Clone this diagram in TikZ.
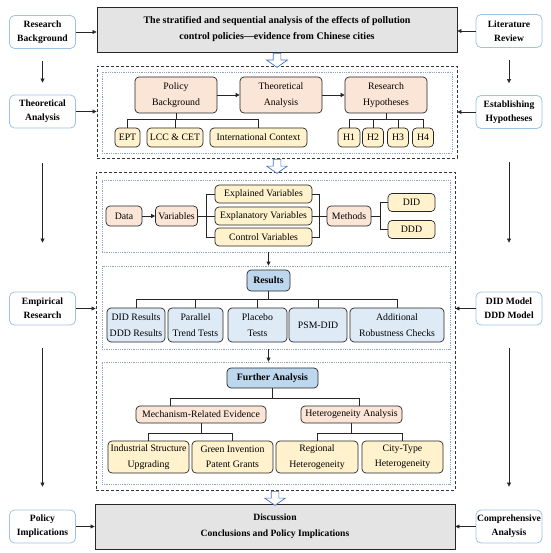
\documentclass[tikz,border=0pt]{standalone}
\usepackage{fontspec}
\setmainfont{Liberation Serif}
\usetikzlibrary{shapes.arrows, arrows.meta, positioning, calc}
\definecolor{sideblue}{HTML}{9DC3E6}
\definecolor{titlegray}{HTML}{E4E4E4}
\definecolor{pinkfill}{HTML}{FBE5D6}
\definecolor{yellowfill}{HTML}{FFF2CC}
\definecolor{headblue}{HTML}{BDD7EE}
\definecolor{resblue}{HTML}{DEEBF7}
\definecolor{framegray}{HTML}{8FA5BF}
\definecolor{arrowblue}{HTML}{4472C4}
\tikzset{
  sidebox/.style={rectangle, rounded corners=5pt, draw=sideblue, line width=0.8pt,
    fill=white, minimum width=66pt, minimum height=33pt, align=center, inner sep=1pt,
    font=\fontsize{9.6}{14}\selectfont\bfseries},
  titlebox/.style={rectangle, draw=black!85, line width=0.9pt, fill=titlegray,
    minimum width=360pt, minimum height=45pt, align=center,
    font=\fontsize{10}{16}\selectfont\bfseries},
  basebox/.style={rectangle, rounded corners=4pt, draw=black!85, line width=0.7pt,
    align=center, inner sep=0.5pt, font=\fontsize{9.8}{15.5}\selectfont},
  pinkbox/.style={basebox, fill=pinkfill},
  yellowbox/.style={basebox, fill=yellowfill},
  headbox/.style={basebox, fill=headblue, font=\fontsize{9.8}{15.5}\selectfont\bfseries},
  resbox/.style={basebox, fill=resblue},
  outerframe/.style={rectangle, draw=black!80, line width=0.9pt, dash pattern=on 3pt off 2pt},
  innerframe/.style={rectangle, draw=framegray, densely dotted, line width=0.8pt},
  arrow/.style={-{Triangle[length=4pt,width=4pt]}, line width=0.6pt, black!85},
  tree/.style={line width=0.6pt, black!85},
  openarrow/.style={single arrow, draw=arrowblue, fill=white, line width=0.7pt,
    shape border rotate=270, minimum height=14pt, inner sep=3.5pt,
    single arrow head extend=6.5pt, single arrow tip angle=110}
}
\begin{document}
\begin{tikzpicture}[x=1pt, y=-1pt]
\useasboundingbox (0,0) rectangle (550,553);

% side columns
\node (rb)   [sidebox] at (42.5,32)    {Research\\Background};
\node (ta)   [sidebox] at (42.5,111.5) {Theoretical\\Analysis};
\node (er)   [sidebox] at (42.5,308.5) {Empirical\\Research};
\node (pi)   [sidebox] at (42.5,526.5) {Policy\\Implications};
\node (lr)   [sidebox] at (509,31)     {Literature\\Review};
\node (eh)   [sidebox] at (509,112)    {Establishing\\Hypotheses};
\node (dm)   [sidebox] at (509,308.5)  {DID Model\\DDD Model};
\node (ca)   [sidebox] at (509,526.5)  {Comprehensive\\Analysis};

% title and discussion
\node (title) [titlebox] at (277,29.5)
  {The stratified and sequential analysis of the effects of pollution\\control policies---evidence from Chinese cities};
\node (disc)  [titlebox, font=\fontsize{9.6}{16}\selectfont\bfseries] at (275,526.5)
  {Discussion\\Conclusions and Policy Implications};

% frames
\node (frame1) [outerframe, minimum width=360pt, minimum height=92pt]  at (277,112)   {};
\node (in1)    [innerframe, minimum width=350pt, minimum height=81pt]  at (277,112.5) {};
\node (frame2) [outerframe, minimum width=359pt, minimum height=318pt] at (275.5,331) {};
\node (subA)   [innerframe, minimum width=348pt, minimum height=72pt]  at (276,216)   {};
\node (subB)   [innerframe, minimum width=348pt, minimum height=83pt]  at (276,307.5) {};
\node (subC)   [innerframe, minimum width=348pt, minimum height=122pt] at (276,423)   {};

% hollow arrows
\node (oa1) [openarrow] at (277,59)  {};
\node (oa2) [openarrow] at (277,165) {};
\node (oa3) [openarrow] at (275,497) {};

% theory block
\node (pb)   [pinkbox, minimum width=82pt, minimum height=36pt] at (176,95) {Policy\\Background};
\node (tha)  [pinkbox, minimum width=82pt, minimum height=36pt] at (281,95) {Theoretical\\Analysis};
\node (rh)   [pinkbox, minimum width=82pt, minimum height=36pt] at (386,95) {Research\\Hypotheses};
\node (ept)  [yellowbox, minimum width=25pt, minimum height=19pt] at (127.5,137.5) {EPT};
\node (lcc)  [yellowbox, minimum width=56pt, minimum height=19pt] at (175,137.5)   {LCC \& CET};
\node (intl) [yellowbox, minimum width=97pt, minimum height=19pt] at (258.5,137.5) {International Context};
\node (h1)   [yellowbox, minimum width=22pt, minimum height=19pt] at (349,137.5) {H1};
\node (h2)   [yellowbox, minimum width=21pt, minimum height=19pt] at (373,137.5) {H2};
\node (h3)   [yellowbox, minimum width=21pt, minimum height=19pt] at (398,137.5) {H3};
\node (h4)   [yellowbox, minimum width=21pt, minimum height=19pt] at (423,137.5) {H4};

% data block
\node (data) [pinkbox, minimum width=36pt, minimum height=20pt] at (124,216)   {Data};
\node (var)  [pinkbox, minimum width=42pt, minimum height=20pt] at (176.5,216) {Variables};
\node (expd) [yellowbox, minimum width=97pt, minimum height=18pt] at (263.5,194) {Explained Variables};
\node (expy) [yellowbox, minimum width=97pt, minimum height=18pt] at (263.5,216) {Explanatory Variables};
\node (ctrl) [yellowbox, minimum width=97pt, minimum height=18pt] at (263.5,237) {Control Variables};
\node (meth) [pinkbox, minimum width=44pt, minimum height=20pt] at (349,216)   {Methods};
\node (did)  [yellowbox, minimum width=47pt, minimum height=18pt] at (411.5,202.5) {DID};
\node (ddd)  [yellowbox, minimum width=47pt, minimum height=18pt] at (411.5,229.5) {DDD};

% results block
\node (res) [headbox, minimum width=43pt, minimum height=21pt] at (268.5,280.5) {Results};
\node (r1)  [resbox, minimum width=58pt, minimum height=34pt] at (136,325)   {DID Results\\DDD Results};
\node (r2)  [resbox, minimum width=55pt, minimum height=34pt] at (195.5,325) {Parallel\\Trend Tests};
\node (r3)  [resbox, minimum width=59pt, minimum height=34pt] at (257.5,325) {Placebo\\Tests};
\node (r4)  [resbox, minimum width=58pt, minimum height=34pt] at (318,325)   {PSM-DID};
\node (r5)  [resbox, minimum width=94pt, minimum height=34pt] at (397,325)   {Additional\\Robustness Checks};

% further analysis block
\node (fa)   [headbox, minimum width=91pt, minimum height=20pt] at (272.5,378) {Further Analysis};
\node (mre)  [pinkbox, minimum width=130pt, minimum height=17pt] at (201,414.5)  {Mechanism-Related Evidence};
\node (ha)   [pinkbox, minimum width=101pt, minimum height=17pt] at (351.5,414.5) {Heterogeneity Analysis};
\node (isu)  [yellowbox, minimum width=81pt, minimum height=32pt] at (148.5,457) {Industrial Structure\\Upgrading};
\node (gip)  [yellowbox, minimum width=81pt, minimum height=32pt] at (232.5,457) {Green Invention\\Patent Grants};
\node (reg)  [yellowbox, minimum width=82pt, minimum height=32pt] at (317,457)   {Regional\\Heterogeneity};
\node (city) [yellowbox, minimum width=81pt, minimum height=32pt] at (402.5,457) {City-Type\\Heterogeneity};

% side arrows
\draw [arrow] (rb) -- (rb -| title.west);
\draw [arrow] (lr) -- (lr -| title.east);
\draw [arrow] (ta) -- (ta -| frame1.west);
\draw [arrow] (eh) -- (eh -| frame1.east);
\draw [arrow] (er) -- (er -| frame2.west);
\draw [arrow] (dm) -- (dm -| frame2.east);
\draw [arrow] (pi) -- (pi -| disc.west);
\draw [arrow] (ca) -- (ca -| disc.east);
\draw [arrow, shorten <=12pt, shorten >=12pt] (rb) -- (ta);
\draw [arrow, shorten <=12pt, shorten >=12pt] (lr) -- (eh);
\draw [arrow, shorten <=35pt, shorten >=49pt] (ta) -- (er);
\draw [arrow, shorten <=33pt, shorten >=49pt] (eh) -- (dm);
\draw [arrow, shorten <=23pt, shorten >=23pt] (er) -- (pi);
\draw [arrow, shorten <=23pt, shorten >=23pt] (dm) -- (ca);

% theory block links
\draw [arrow] (pb) -- (tha);
\draw [arrow] (tha) -- (rh);
\draw [tree] (pb.south) -- ++(0,6) coordinate (pbbar);
\foreach \c in {ept,lcc,intl} \draw [tree] (pbbar) -| (\c);
\draw [tree] (rh.south) -- ++(0,6) coordinate (rhbar);
\foreach \c in {h1,h2,h3,h4} \draw [tree] (rhbar) -| (\c);

% data block links
\draw [arrow] (data) -- (var);
\draw [tree] (var.east) -- ++(8,0) coordinate (vbar);
\foreach \c in {expd,expy,ctrl} \draw [tree] (vbar) |- (\c);
\draw [tree] (meth.west) -- ++(-7,0) coordinate (mleft);
\foreach \c in {expd,expy,ctrl} \draw [tree] (mleft) |- (\c);
\draw [tree] (meth.east) -- ++(9,0) coordinate (mright);
\foreach \c in {did,ddd} \draw [tree] (mright) |- (\c);

% results links
\draw [arrow] (subA.south -| res) -- (subB.north -| res);
\draw [tree] (res.south) -- ++(0,8) coordinate (resbar);
\foreach \c in {r1,r2,r3,r4,r5} \draw [tree] (resbar) -| (\c);

% further analysis links
\draw [arrow] (subB.south -| res) -- (subC.north -| res);
\draw [tree] (fa.south) -- ++(0,10) coordinate (fabar);
\draw [tree] (fabar) -| ([xshift=-31pt]mre.north);
\draw [tree] (fabar) -| ([xshift=8pt]ha.north);
\draw [tree] (mre.south) -- ++(0,10) coordinate (mbar);
\foreach \c in {isu,gip} \draw [tree] (mbar) -| (\c);
\draw [tree] (ha.south) -- ++(0,10) coordinate (hbar);
\foreach \c in {reg,city} \draw [tree] (hbar) -| (\c);
\end{tikzpicture}
\end{document}
